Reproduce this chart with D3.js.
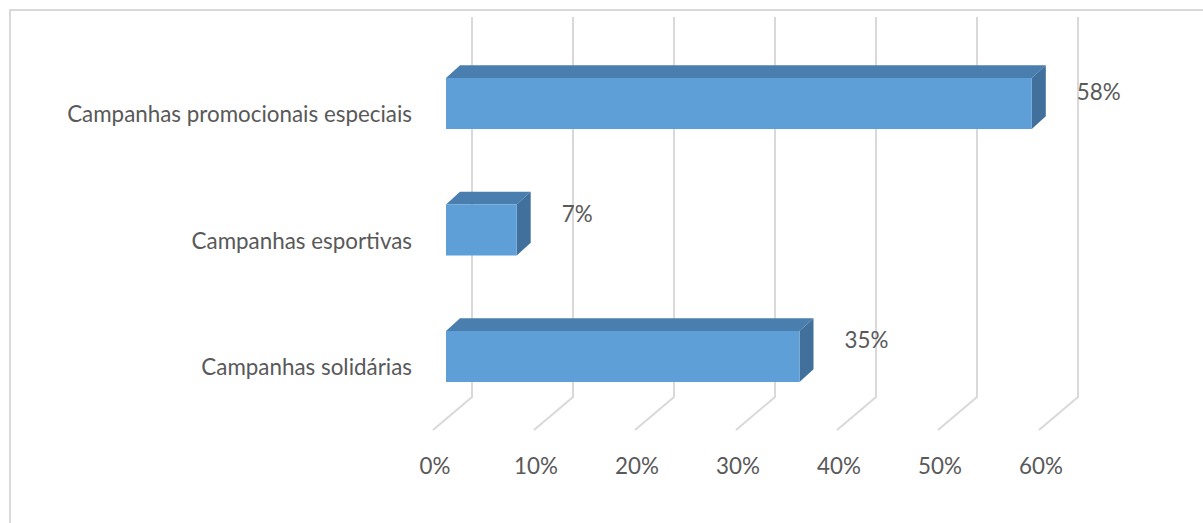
<!DOCTYPE html>
<html>
<head>
<meta charset="utf-8">
<script src="https://cdn.jsdelivr.net/npm/d3@7"></script>
<style>
  html, body { margin: 0; padding: 0; background: #fff; }
  svg { display: block; }
  text { font-family: Lato, "Open Sans", sans-serif; fill: #595959; }
</style>
</head>
<body>
<script>
// Campaign types and their shares
const categories = ["Campanhas promocionais especiais", "Campanhas esportivas", "Campanhas solidárias"];
const values = [0.58, 0.07, 0.35];
const valueLabels = ["58%", "7%", "35%"];
const ticks = [0, 0.1, 0.2, 0.3, 0.4, 0.5, 0.6];

const W = 1203, H = 523;
const svg = d3.select("body").append("svg").attr("width", W).attr("height", H);

// chart area outline
svg.append("rect")
  .attr("x", 10).attr("y", 10).attr("width", 1400).attr("height", 700)
  .attr("fill", "none").attr("stroke", "#d9d9d9").attr("stroke-width", 2);

// value scale on the bars' front plane
const x = d3.scaleLinear().domain([0, 0.6]).range([446, 446 + 606]);
// category centres on the bars' front plane
const y = d3.scalePoint().domain(categories).range([103.5, 356.5]);

// oblique depth: full depth of floor shifts right/up
const DX = 39, DY = 33;
const tFront = 13 / 39, tBack = 27 / 39; // bar front / back depth within the floor
const wallX = v => x(v) + (1 - tFront) * DX;
const floorFrontX = v => x(v) - tFront * DX;
const wallBottom = 397, wallTop = 17;

// gridlines: back wall verticals plus floor diagonals
const grid = svg.append("g").attr("stroke", "#d9d9d9").attr("stroke-width", 2).attr("fill", "none");
ticks.forEach(t => {
  grid.append("path").attr("d",
    `M${wallX(t)},${wallTop} L${wallX(t)},${wallBottom} L${floorFrontX(t)},${wallBottom + DY}`);
});

// bars
const barH = 51;
const bdx = (tBack - tFront) * DX, bdy = (tBack - tFront) * DY * 1.08;
const bars = svg.append("g");
categories.forEach((c, i) => {
  const x0 = x(0), x1 = x(values[i]);
  const yt = y(c) - barH / 2, yb = yt + barH;
  // top face
  bars.append("path")
    .attr("d", `M${x0},${yt} L${x0 + bdx},${yt - bdy} L${x1 + bdx},${yt - bdy} L${x1},${yt} Z`)
    .attr("fill", "#4a7eae");
  // side face
  bars.append("path")
    .attr("d", `M${x1},${yt} L${x1 + bdx},${yt - bdy} L${x1 + bdx},${yb - bdy} L${x1},${yb} Z`)
    .attr("fill", "#41709c");
  // front face
  bars.append("rect")
    .attr("x", x0).attr("y", yt).attr("width", x1 - x0).attr("height", barH)
    .attr("fill", "#5f9fd7");
});

// font size fitted to the longest category label
const probe = svg.append("text").attr("font-size", 20).text(categories[0]);
const fs = 20 * 345 / probe.node().getComputedTextLength();
probe.remove();

// category labels
svg.append("g").selectAll("text").data(categories).join("text")
  .attr("x", 412).attr("y", d => y(d) + 10)
  .attr("text-anchor", "end").attr("dominant-baseline", "central")
  .attr("font-size", fs).text(d => d);

// value labels
svg.append("g").selectAll("text").data(values).join("text")
  .attr("x", d => x(d) + 45)
  .attr("y", (d, i) => y(categories[i]) - (i === 0 ? 12 : 17))
  .attr("dominant-baseline", "central")
  .attr("font-size", fs).text((d, i) => valueLabels[i]);

// axis tick labels
svg.append("g").selectAll("text").data(ticks).join("text")
  .attr("x", d => floorFrontX(d) + 2).attr("y", 465)
  .attr("text-anchor", "middle").attr("dominant-baseline", "central")
  .attr("font-size", fs).text(d => d3.format(".0%")(d));
</script>
</body>
</html>
